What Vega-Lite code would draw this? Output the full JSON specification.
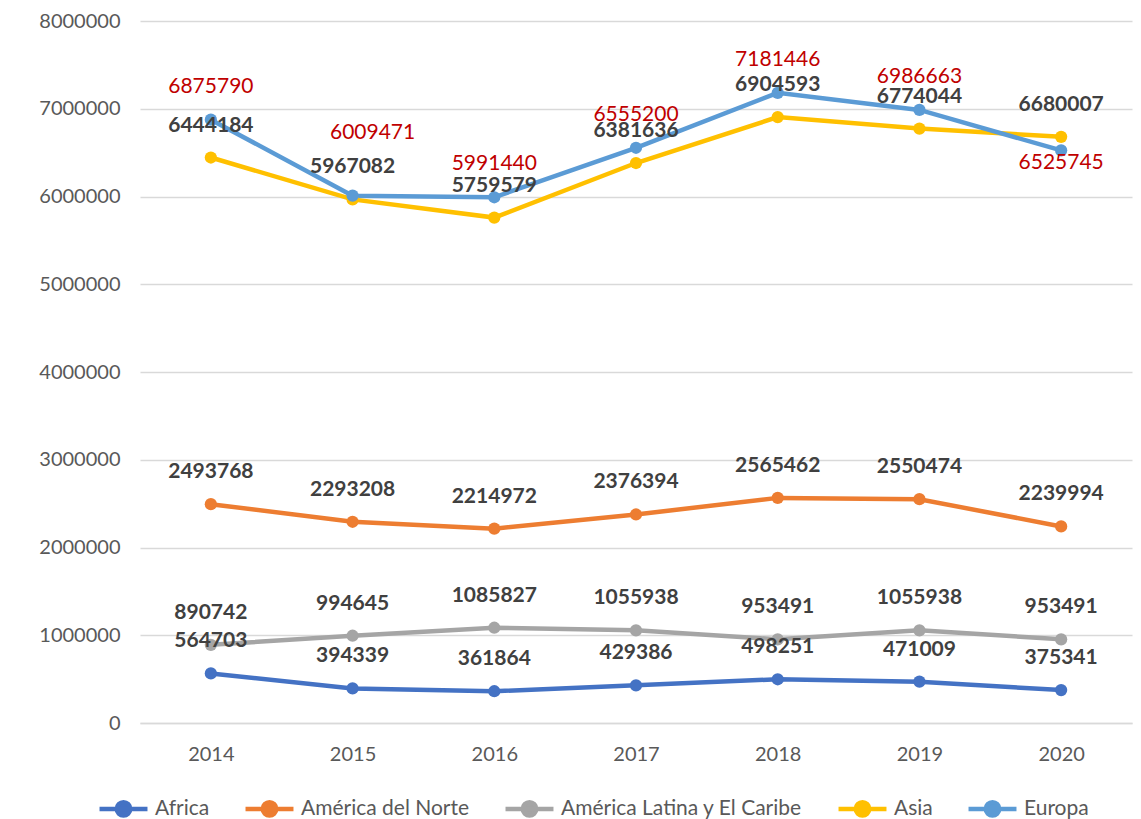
{
  "$schema": "https://vega.github.io/schema/vega-lite/v6.json",
  "width": 992,
  "height": 702,
  "autosize": {"type": "none"},
  "padding": {"left": 140, "top": 21, "right": 9, "bottom": 96},
  "background": "white",
  "config": {
    "font": "Lato",
    "view": {"stroke": null}
  },
  "data": {
    "values": [
      {"year": "2014", "region": "Africa", "value": 564703},
      {"year": "2015", "region": "Africa", "value": 394339},
      {"year": "2016", "region": "Africa", "value": 361864},
      {"year": "2017", "region": "Africa", "value": 429386},
      {"year": "2018", "region": "Africa", "value": 498251},
      {"year": "2019", "region": "Africa", "value": 471009},
      {"year": "2020", "region": "Africa", "value": 375341},
      {"year": "2014", "region": "América del Norte", "value": 2493768},
      {"year": "2015", "region": "América del Norte", "value": 2293208},
      {"year": "2016", "region": "América del Norte", "value": 2214972},
      {"year": "2017", "region": "América del Norte", "value": 2376394},
      {"year": "2018", "region": "América del Norte", "value": 2565462},
      {"year": "2019", "region": "América del Norte", "value": 2550474},
      {"year": "2020", "region": "América del Norte", "value": 2239994},
      {"year": "2014", "region": "América Latina y El Caribe", "value": 890742},
      {"year": "2015", "region": "América Latina y El Caribe", "value": 994645},
      {"year": "2016", "region": "América Latina y El Caribe", "value": 1085827},
      {"year": "2017", "region": "América Latina y El Caribe", "value": 1055938},
      {"year": "2018", "region": "América Latina y El Caribe", "value": 953491},
      {"year": "2019", "region": "América Latina y El Caribe", "value": 1055938},
      {"year": "2020", "region": "América Latina y El Caribe", "value": 953491},
      {"year": "2014", "region": "Asia", "value": 6444184},
      {"year": "2015", "region": "Asia", "value": 5967082},
      {"year": "2016", "region": "Asia", "value": 5759579},
      {"year": "2017", "region": "Asia", "value": 6381636},
      {"year": "2018", "region": "Asia", "value": 6904593},
      {"year": "2019", "region": "Asia", "value": 6774044},
      {"year": "2020", "region": "Asia", "value": 6680007},
      {"year": "2014", "region": "Europa", "value": 6875790},
      {"year": "2015", "region": "Europa", "value": 6009471},
      {"year": "2016", "region": "Europa", "value": 5991440},
      {"year": "2017", "region": "Europa", "value": 6555200},
      {"year": "2018", "region": "Europa", "value": 7181446},
      {"year": "2019", "region": "Europa", "value": 6986663},
      {"year": "2020", "region": "Europa", "value": 6525745}
    ]
  },
  "encoding": {
    "x": {
      "field": "year", "type": "ordinal",
      "scale": {"type": "point", "padding": 0.5},
      "axis": {
        "title": null, "labelAngle": 0, "labelFontSize": 20, "labelColor": "#595959",
        "domain": true, "domainColor": "#D9D9D9", "domainWidth": 1.3, "ticks": false, "labelPadding": 21, "grid": false
      }
    },
    "y": {
      "field": "value", "type": "quantitative",
      "scale": {"domain": [0, 8000000], "nice": false},
      "axis": {
        "title": null, "format": "d", "values": [0,1000000,2000000,3000000,4000000,5000000,6000000,7000000,8000000],
        "labelOverlap": false,
        "labelFontSize": 20, "labelColor": "#595959", "labelPadding": 20,
        "domain": false, "ticks": false, "gridColor": "#D9D9D9", "gridWidth": 1.3
      }
    }
  },
  "layer": [
    {
      "mark": {"type": "line", "strokeWidth": 4.5, "point": {"size": 150, "filled": true, "opacity": 1}},
      "encoding": {
        "color": {
          "field": "region", "type": "nominal",
          "scale": {
            "domain": ["Africa", "América del Norte", "América Latina y El Caribe", "Asia", "Europa"],
            "range": ["#4472C4", "#ED7D31", "#A5A5A5", "#FFC000", "#5B9BD5"]
          },
          "legend": {
            "title": null, "orient": "none", "direction": "horizontal",
            "legendX": -43, "legendY": 761,
            "symbolType": "M -1 0 L 1 0 M -0.28 0 A 0.28 0.28 0 1 0 0.28 0 A 0.28 0.28 0 1 0 -0.28 0",
            "symbolSize": 2300, "symbolStrokeWidth": 4.5,
            "labelFontSize": 21, "labelColor": "#595959", "labelOffset": 5, "labelLimit": 400,
            "columnPadding": 26, "symbolOffset": 0
          }
        }
      }
    },
    {
      "transform": [{"filter": "datum.region !== 'Europa'"}],
      "mark": {"type": "text", "dy": -32, "fontSize": 21, "fontWeight": "bold", "color": "#404040", "baseline": "middle"},
      "encoding": {"text": {"field": "value", "type": "quantitative", "format": "d"}}
    },
    {
      "transform": [{"filter": "datum.region === 'Europa' && datum.year !== '2015' && datum.year !== '2020'"}],
      "mark": {"type": "text", "dy": -33, "fontSize": 21, "color": "#C00000", "baseline": "middle"},
      "encoding": {"text": {"field": "value", "type": "quantitative", "format": "d"}}
    },
    {
      "transform": [{"filter": "datum.region === 'Europa' && datum.year === '2015'"}],
      "mark": {"type": "text", "dy": -63, "dx": 20, "fontSize": 21, "color": "#C00000", "baseline": "middle"},
      "encoding": {"text": {"field": "value", "type": "quantitative", "format": "d"}}
    },
    {
      "transform": [{"filter": "datum.region === 'Europa' && datum.year === '2020'"}],
      "mark": {"type": "text", "dy": 13, "fontSize": 21, "color": "#C00000", "baseline": "middle"},
      "encoding": {"text": {"field": "value", "type": "quantitative", "format": "d"}}
    }
  ]
}
